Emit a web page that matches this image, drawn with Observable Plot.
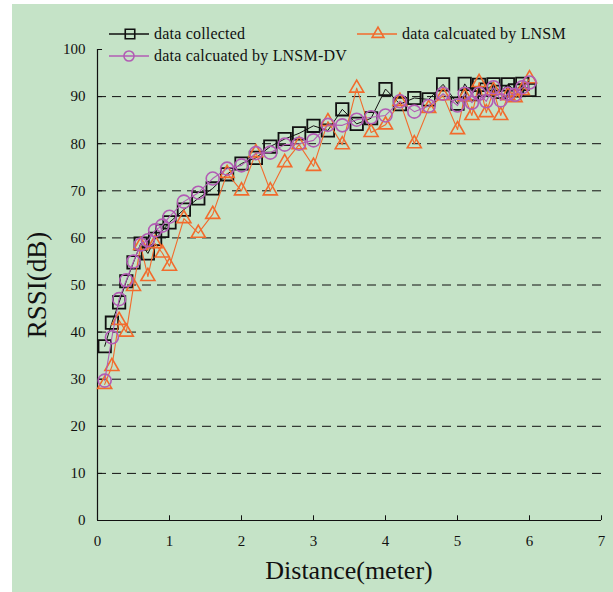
<!DOCTYPE html>
<html>
<head>
<meta charset="utf-8">
<script src="https://cdn.jsdelivr.net/npm/d3@7"></script>
<script src="https://cdn.jsdelivr.net/npm/@observablehq/plot@0.6"></script>
<style>
  html, body { margin: 0; padding: 0; background: #ffffff; }
  #wrap { position: relative; width: 613px; height: 592px; overflow: hidden; font-family: "Liberation Serif", "DejaVu Serif", serif; }
  #bg { position: absolute; left: 12px; top: 4px; right: 0; bottom: 0; background: #c5e3c7; }
  #chart { position: absolute; left: 0; top: 0; }
  .leg { position: absolute; display: flex; align-items: center; font-size: 16px; letter-spacing: 0.2px; color: #111; white-space: nowrap; }
  .leg svg { display: block; margin-right: 5px; }
  #xtitle { position: absolute; left: 97px; width: 504px; top: 556px; text-align: center; font-size: 26px; color: #111; }
  #ytitle { position: absolute; left: 37px; top: 285px; font-size: 27px; color: #111; transform: translate(-50%, -50%) rotate(-90deg); white-space: nowrap; }
</style>
</head>
<body>
<div id="wrap">
  <div id="bg"></div>
  <div id="chart"></div>
  <div id="legend"></div>
  <div id="xtitle"></div>
  <div id="ytitle"></div>
</div>
<script>
const distance = [0.1,0.2,0.3,0.4,0.5,0.6,0.7,0.8,0.9,1.0,
  1.2,1.4,1.6,1.8,2.0,2.2,2.4,2.6,2.8,3.0,3.2,3.4,3.6,3.8,4.0,4.2,4.4,4.6,4.8,
  5.0,5.1,5.2,5.3,5.4,5.5,5.6,5.7,5.8,5.9,6.0];
const collected = [37,42,46.3,50.8,54.8,58.8,56.7,59.8,61.5,63.3,
  66,68.4,70.5,73.5,75.8,77,79.4,81,82.2,83.8,82.8,87.3,84.2,85.4,91.6,88.4,89.7,89.4,92.6,
  88.5,92.7,90.5,92.5,91.5,92.6,91,92.6,91.3,92.7,91.4];
const lnsm = [28.9,32.7,42.5,40,49.7,58.4,51.8,58.8,56.8,54,
  64.1,61,65,73.7,70,78.1,70,76,79.8,75.2,84.7,79.8,91.8,82.4,84,89,80,87.5,90.2,
  83,90,86,93,86.6,91.3,86,90.2,89.8,91.3,93.8];
const lnsmDV = [29.7,38.9,47,51,55,58.6,59.5,61.6,62.6,64.5,
  67.7,69.6,72.6,74.7,75.4,78,78.1,79.8,80,80.7,84,83.9,85.1,85.6,86,89,86.8,88,90.6,
  88.1,90.6,88.7,90.6,89,92,89.2,90.6,90.4,92,93];

const seriesNames = ["data collected", "data calcuated by LNSM", "data calcuated by LNSM-DV"];
const seriesColors = ["#111111", "#f26b2c", "#b25cb4"];
const seriesSymbols = ["square", "triangle", "circle"];
const xTicks = [0,1,2,3,4,5,6,7];
const yTicks = [0,10,20,30,40,50,60,70,80,90,100];
const gridLines = [10,20,30,40,50,60,70,80,90];
const xLabel = "Distance(meter)";
const yLabel = "RSSI(dB)";

const tableOf = (vals) => distance.map((d, i) => ({d, v: vals[i]}));
const tCollected = tableOf(collected);
const tLnsm = tableOf(lnsm);
const tDV = tableOf(lnsmDV);

const chart = Plot.plot({
  width: 613,
  height: 592,
  marginLeft: 97,
  marginRight: 12,
  marginTop: 49,
  marginBottom: 72,
  style: { background: "transparent", fontFamily: "Liberation Serif, serif", fontSize: "15px", color: "#111" },
  x: { domain: [0, 7] },
  y: { domain: [0, 100] },
  marks: [
    Plot.ruleY(gridLines, { stroke: "#111", strokeWidth: 1, strokeDasharray: "9,6" }),
    Plot.ruleX([0], { y1: 0, y2: 100, stroke: "#111", strokeWidth: 1.2 }),
    Plot.ruleY([0], { stroke: "#111", strokeWidth: 1.2 }),
    Plot.ruleX(xTicks, { y1: 0, y2: 1.0, stroke: "#111", strokeWidth: 1 }),
    Plot.ruleY(yTicks, { x1: 0, x2: 0.07, stroke: "#111", strokeWidth: 1 }),
    Plot.axisX({ ticks: xTicks, tickSize: 0, tickPadding: 15, label: null, tickFormat: d => String(d) }),
    Plot.axisY({ ticks: yTicks, tickSize: 0, tickPadding: 12, label: null, tickFormat: d => String(d) }),
    Plot.line(tCollected, { x: "d", y: "v", stroke: seriesColors[0], strokeWidth: 1 }),
    Plot.dot(tCollected, { x: "d", y: "v", symbol: seriesSymbols[0], r: 7, stroke: seriesColors[0], strokeWidth: 1.8, fill: "none" }),
    Plot.line(tLnsm, { x: "d", y: "v", stroke: seriesColors[1], strokeWidth: 1.1 }),
    Plot.dot(tLnsm, { x: "d", y: "v", symbol: seriesSymbols[1], r: 5.2, stroke: seriesColors[1], strokeWidth: 1.6, fill: "none" }),
    Plot.line(tDV, { x: "d", y: "v", stroke: seriesColors[2], strokeWidth: 1.1 }),
    Plot.dot(tDV, { x: "d", y: "v", symbol: seriesSymbols[2], r: 6.5, stroke: seriesColors[2], strokeWidth: 1.6, fill: "none" })
  ]
});
document.getElementById("chart").appendChild(chart);

document.getElementById("xtitle").textContent = xLabel;
document.getElementById("ytitle").textContent = yLabel;

// legend
const legPos = [[109, 24], [357, 24], [109, 46]];
const legend = document.getElementById("legend");
seriesNames.forEach((name, i) => {
  const item = document.createElement("div");
  item.className = "leg";
  item.style.left = legPos[i][0] + "px";
  item.style.top = legPos[i][1] + "px";
  const ns = "http://www.w3.org/2000/svg";
  const svg = document.createElementNS(ns, "svg");
  svg.setAttribute("width", 40);
  svg.setAttribute("height", 20);
  const ln = document.createElementNS(ns, "line");
  ln.setAttribute("x1", 0); ln.setAttribute("x2", 40);
  ln.setAttribute("y1", 10); ln.setAttribute("y2", 10);
  ln.setAttribute("stroke", seriesColors[i]); ln.setAttribute("stroke-width", 1.4);
  svg.appendChild(ln);
  const sym = { square: d3.symbolSquare, triangle: d3.symbolTriangle, circle: d3.symbolCircle }[seriesSymbols[i]];
  const size = { square: 90, triangle: 60, circle: 80 }[seriesSymbols[i]];
  const p = document.createElementNS(ns, "path");
  p.setAttribute("d", d3.symbol(sym, size)());
  p.setAttribute("transform", `translate(${i === 2 ? 20 : 21},10)`);
  p.setAttribute("fill", "none");
  p.setAttribute("stroke", seriesColors[i]);
  p.setAttribute("stroke-width", 1.6);
  svg.appendChild(p);
  item.appendChild(svg);
  const span = document.createElement("span");
  span.textContent = name;
  item.appendChild(span);
  legend.appendChild(item);
});
</script>
</body>
</html>
